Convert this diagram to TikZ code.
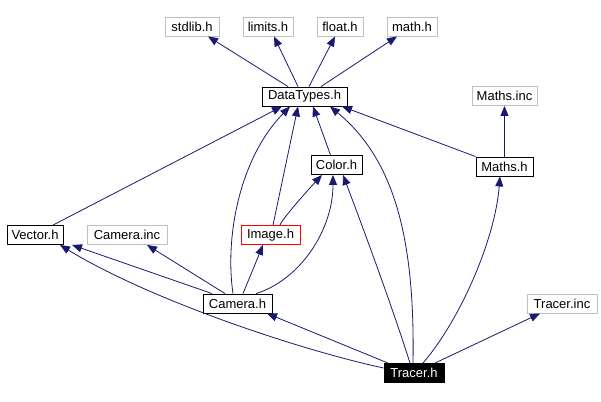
\documentclass[tikz,border=0pt]{standalone}
\usepackage{fontspec}
\setmainfont{Liberation Sans}
\usetikzlibrary{arrows.meta,calc}
\definecolor{edgeblue}{HTML}{191970}
\definecolor{extgray}{HTML}{BFBFBF}
\begin{document}
\begin{tikzpicture}[x=1pt,y=-1pt,
  file/.style={draw=black,line width=0.9pt,minimum height=19pt,inner sep=0pt,
    font=\fontsize{13}{14}\selectfont},
  extfile/.style={file,draw=extgray},
  curfile/.style={file,draw=red},
  mainfile/.style={file,fill=black,text=white},
  dep/.style={draw=edgeblue,line width=0.8pt,
    -{Triangle[length=10pt,width=8pt]},color=edgeblue},
]
\useasboundingbox (0,0) rectangle (601,401);

% system headers
\node[extfile,minimum width=54pt] (stdlib) at (192,26.5) {stdlib.h};
\node[extfile,minimum width=50pt] (limits) at (268,26.5) {limits.h};
\node[extfile,minimum width=46pt] (float)  at (340,26.5) {float.h};
\node[extfile,minimum width=50pt] (math)   at (412,26.5) {math.h};

% project headers
\node[file,minimum width=85pt] (dt)       at (304.5,96.5) {DataTypes.h};
\node[extfile,minimum width=65pt] (mathsinc) at (504.5,96) {Maths.inc};
\node[file,minimum width=51pt] (color)    at (336.5,165) {Color.h};
\node[file,minimum width=57pt] (maths)    at (504.5,166.5) {Maths.h};
\node[file,minimum width=56pt] (vector)   at (35,235) {Vector.h};
\node[extfile,minimum width=80pt] (caminc) at (127,235) {Camera.inc};
\node[curfile,minimum width=59pt] (image) at (270.5,235) {Image.h};
\node[file,minimum width=69pt] (camera)   at (237.5,303.5) {Camera.h};
\node[extfile,minimum width=70pt] (trinc) at (562,303.5) {Tracer.inc};
\node[mainfile,minimum width=60pt] (tracer) at (414,373) {Tracer.h};

% DataTypes.h includes
\draw[dep] ($(dt.north)+(-16.5,0)$) -- ($(stdlib.south)+(16,0)$);
\draw[dep] ($(dt.north)+(-6.5,0)$)  -- ($(limits.south)+(6,0)$);
\draw[dep] ($(dt.north)+(4.5,0)$)   -- ($(float.south)+(-5,0)$);
\draw[dep] ($(dt.north)+(16.5,0)$)  -- ($(math.south)+(-15,0)$);

% Maths.h includes
\draw[dep] (maths.north) -- (mathsinc.south);
\draw[dep] (maths.north west) -- ($(dt.south)+(37.5,0)$);

% Color.h, Vector.h, Image.h includes
\draw[dep] ($(color.north)+(-6,0)$) -- ($(dt.south)+(8.5,0)$);
\draw[dep] ($(vector.north)+(18,0)$) -- ($(dt.south)+(-22.5,0)$);
\draw[dep] ($(image.north)+(2.5,0)$) -- ($(dt.south)+(-6.5,0)$);
\draw[dep] ($(image.north)+(9.5,0)$) .. controls +(2,-6) and +(-14,15) .. ($(color.south)+(-14.5,0)$);

% Camera.h includes
\draw[dep] ($(camera.north)+(-4.5,0)$) .. controls (225,240) and (238,160) .. ($(dt.south)+(-14.5,0)$);
\draw[dep] ($(camera.north)+(18.5,0)$) .. controls (300,280) and (333,230) .. ($(color.south)+(-3.5,0)$);
\draw[dep] ($(camera.north)+(5.5,0)$) -- ($(image.south)+(-7.5,0)$);
\draw[dep] ($(camera.north)+(-25.5,0)$) -- ($(vector.south)+(37,0)$);
\draw[dep] ($(camera.north)+(-12.5,0)$) -- ($(caminc.south)+(20,0)$);

% Tracer.h includes
\draw[dep] ($(tracer.west)+(0,-5)$) .. controls (300,350) and (150,300) .. ($(vector.south)+(25,0)$);
\draw[dep] ($(tracer.north)+(-26,0)$) -- ($(camera.south)+(29.5,0)$);
\draw[dep] ($(tracer.north)+(-4,0)$) .. controls (390,300) and (360,220) .. ($(color.south)+(6.5,0)$);
\draw[dep] ($(tracer.north)+(-1,0)$) .. controls (415,240) and (395,160) .. ($(dt.south)+(25.5,0)$);
\draw[dep] ($(tracer.north)+(9,0)$) .. controls (460,320) and (495,240) .. ($(maths.south)+(-4.5,0)$);
\draw[dep] ($(tracer.north)+(21,0)$) -- ($(trinc.south)+(-22,0)$);
\end{tikzpicture}
\end{document}
